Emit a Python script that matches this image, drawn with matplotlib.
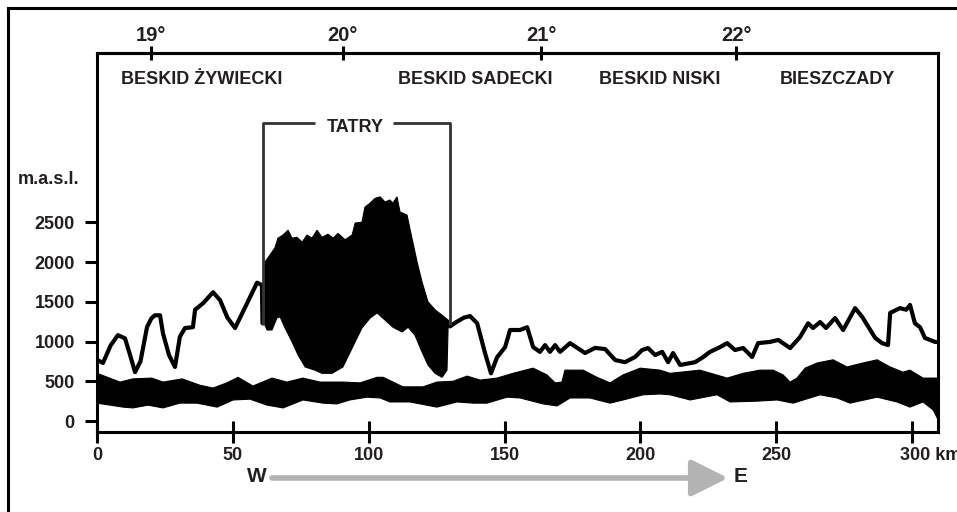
import numpy as np
import matplotlib
matplotlib.use("Agg")
import matplotlib.pyplot as plt
from matplotlib.lines import Line2D
from matplotlib.transforms import ScaledTranslation

plt.rcParams['font.family'] = ['Liberation Sans', 'DejaVu Sans']
plt.rcParams['font.weight'] = 'bold'

INK = "#231f20"

# ── ridge line (main crest), west of the Tatras ──────────────────────────────
west_km = [0, 2.2, 5, 7.7, 10.3, 12, 14, 16, 18.4, 20, 21.3, 23.2, 24.3, 26.5, 28.7,
           30.5, 32.4, 35.3, 36.1, 39.0, 42.7, 45.3, 48, 50.8, 54.5, 58.9, 60.7, 60.9]
west_m = [770, 730, 950, 1080, 1040, 850, 615, 750, 1180, 1290, 1330, 1330, 1100, 830, 680,
          1060, 1170, 1180, 1400, 1480, 1620, 1520, 1300, 1170, 1430, 1740, 1710, 1230]

# ── ridge line east of the Tatras ────────────────────────────────────────────
east_km = [129.9, 132, 135, 137.3, 139.9, 142.8, 145.0, 147.2, 150.2, 152.0, 155.7, 158.3,
           160.5, 163.0, 164.9, 166.7, 168.6, 170.4, 174.1, 179.6, 183.3, 187.0, 190.7,
           194.3, 198.0, 200.6, 202.8, 205.4, 208.0, 210.2, 212.0, 214.6, 220.1, 223.1,
           225.6, 229.3, 231.9, 234.8, 237.8, 241.1, 243.3, 247.7, 250.7, 255.1, 258.7,
           261.7, 263.5, 266.1, 268.3, 271.6, 274.6, 279.0, 281.6, 286.4, 288.9, 291.1,
           291.9, 295.5, 297.8, 299.2, 301.0, 302.9, 304.7, 308.4, 309.5]
east_m = [1190, 1240, 1300, 1320, 1230, 855, 600, 800, 930, 1145, 1145, 1180,
          930, 870, 955, 870, 955, 870, 980, 855, 920, 905, 767,
          740, 805, 893, 918, 830, 870, 740, 855, 705, 740, 805,
          870, 930, 980, 893, 918, 805, 980, 995, 1020, 918, 1055,
          1230, 1170, 1245, 1170, 1295, 1145, 1420, 1310, 1045, 980, 955,
          1360, 1420, 1400, 1460, 1230, 1180, 1045, 995, 995]

# ── Tatry massif: upper (summits) and lower envelope ─────────────────────────
tatry_top_km = [61.8, 63.7, 65.5, 66.6, 68.5, 70.3, 71.8, 73.6, 75.5, 77.3, 79.1, 81.0,
                82.8, 85.0, 86.9, 88.7, 91.3, 93.9, 95.0, 97.5, 98.6, 100.5, 102.3,
                104.2, 106.0, 107.8, 108.9, 110.4, 111.5, 114.1, 115.9, 117.8, 119.6,
                121.8, 124.4, 127.0, 129.2, 129.6]
tatry_top_m = [2000, 2090, 2180, 2300, 2340, 2400, 2300, 2310, 2250, 2340, 2300, 2400,
               2310, 2350, 2300, 2360, 2280, 2340, 2490, 2500, 2690, 2740, 2800,
               2820, 2755, 2780, 2740, 2820, 2630, 2590, 2300, 2000, 1750,
               1500, 1400, 1330, 1270, 1245]
tatry_bot_km = [61.8, 62.6, 64.4, 66.2, 67.4, 69.2, 71.8, 74.0, 76.6, 80.2, 82.8, 86.5,
                90.5, 93.9, 97.5, 100.5, 103.1, 106.0, 108.9, 112.3, 114.5, 117.0,
                119.6, 121.8, 124.4, 127.0, 128.8, 129.2, 129.6]
tatry_bot_m = [1210, 1145, 1145, 1295, 1310, 1170, 995, 830, 680, 640, 600, 600,
               680, 918, 1170, 1295, 1360, 1270, 1180, 1120, 1180, 1080,
               870, 705, 600, 550, 640, 1170, 1245]

# ── foreland band (valley floors) ────────────────────────────────────────────
band_top_km = [0, 8.5, 13.2, 20.2, 24.3, 31.3, 37.9, 42.7, 47.8, 51.9, 57.4, 64.4, 69.9,
               75.8, 82.1, 90.5, 96.8, 103.1, 105.3, 112.6, 120.0, 125.1, 131.0, 136.2,
               141.0, 147.2, 153.1, 160.5, 165.6, 168.6, 171.1, 172.2, 178.9, 184.0,
               188.8, 193.6, 199.9, 207.2, 210.9, 221.9, 231.9, 237.8, 244.0, 248.8,
               252.5, 255.1, 257.6, 260.6, 265.0, 270.9, 276.0, 281.9, 287.1, 291.9,
               296.6, 299.2, 304.0, 309.5]
band_top_m = [600, 490, 530, 540, 490, 530, 450, 415, 480, 550, 440, 540, 490,
              540, 490, 490, 480, 550, 550, 430, 430, 490, 500, 565,
              515, 540, 600, 665, 580, 480, 490, 640, 640, 550,
              480, 580, 665, 640, 600, 640, 540, 600, 640, 640,
              580, 490, 540, 665, 730, 770, 680, 730, 770, 680,
              615, 640, 540, 540]
band_bot_km = [0, 9.6, 13.2, 18.8, 24.3, 30.5, 36.8, 44.2, 50.1, 56.3, 62.6, 68.5, 75.8,
               83.2, 88.3, 93.1, 99.4, 104.2, 107.8, 115.2, 125.1, 132.5, 138.4, 143.5,
               150.9, 155.7, 164.2, 169.3, 174.1, 181.4, 188.8, 193.6, 201.0, 207.2,
               210.9, 218.3, 228.2, 233.0, 242.9, 250.3, 256.2, 266.1, 272.4, 277.1,
               287.1, 294.4, 299.2, 304.0, 307.7, 309.2, 309.5]
band_bot_m = [225, 175, 165, 200, 165, 225, 225, 175, 265, 275, 200, 165, 265,
              225, 215, 265, 300, 290, 240, 240, 175, 240, 225, 225,
              300, 290, 215, 190, 290, 290, 225, 265, 330, 340,
              330, 265, 330, 240, 250, 265, 225, 330, 290, 225,
              300, 240, 175, 240, 140, 40, 0]

# ── axes labels ──────────────────────────────────────────────────────────────
km_ticks = [0, 50, 100, 150, 200, 250, 300]
m_ticks = [0, 500, 1000, 1500, 2000, 2500]
lon_km = [19.9, 90.5, 163.4, 235.2]
lon_labels = ["19°", "20°", "21°", "22°"]
ranges = ["BESKID ŻYWIECKI", "BESKID SADECKI", "BESKID NISKI", "BIESZCZADY"]
ranges_km = [38.6, 139.1, 207.2, 272.4]

fig = plt.figure(figsize=(9.57, 5.12), dpi=100)
ax = fig.add_axes([97 / 957, 80 / 512, 841 / 957, 379 / 512])
ax.set_xlim(0, 309.5)
ax.set_ylim(-138, 4629)

# band
ax.fill(np.r_[band_top_km, band_bot_km[::-1]], np.r_[band_top_m, band_bot_m[::-1]],
        color="black", lw=0.8, zorder=2)
# Tatry
ax.fill(np.r_[tatry_top_km, tatry_bot_km[::-1]], np.r_[tatry_top_m, tatry_bot_m[::-1]],
        color="black", lw=0.8, zorder=2)
# ridge lines
kw = dict(color="black", lw=3, solid_joinstyle="round", solid_capstyle="round", zorder=3)
ax.plot(west_km, west_m, **kw)
ax.plot(east_km, east_m, **kw)

# TATRY bracket
bx0, bx1, by0, by1 = 61.1, 129.9, 1208, 3748
bc = dict(color="#333333", lw=2, solid_capstyle="butt", zorder=4, clip_on=False)
ax.plot([bx0, bx0, 80.2], [by0, by1, by1], **bc)
ax.plot([108.9, bx1, bx1], [by1, by1, by0], **bc)
ax.text(95, 3690, "TATRY", ha="center", va="center", fontsize=13, color=INK)

for name, x in zip(ranges, ranges_km):
    ax.text(x, 4290, name, ha="center", va="center", fontsize=13, color=INK)

ax.text(-17.7, 3032, "m.a.s.l.", ha="center", va="center", fontsize=13, color=INK,
        clip_on=False)

# spines / ticks
for s in ax.spines.values():
    s.set_linewidth(2.2)
    s.set_color("black")
ax.set_xticks(km_ticks, [str(v) for v in km_ticks[:-1]] + ["300 km"])
ax.set_yticks(m_ticks, [str(v) for v in m_ticks])
ax.tick_params(axis="x", direction="inout", length=16, width=2.2, pad=3,
               labelsize=13, labelcolor=INK)
ax.tick_params(axis="y", direction="out", length=9, width=2.2, pad=7,
               labelsize=13, labelcolor=INK)
last = ax.get_xticklabels()[-1]
last.set_horizontalalignment("left")
last.set_transform(last.get_transform() + ScaledTranslation(-12 / 100, 0, fig.dpi_scale_trans))

top = ax.secondary_xaxis("top")
top.set_xticks(lon_km, lon_labels)
top.spines["top"].set_linewidth(2.2)
top.tick_params(direction="inout", length=10, width=2.2, pad=1, labelsize=14.5,
                labelcolor=INK)

# outer frame
fig.add_artist(Line2D([8 / 957, 8 / 957], [0, 1 - 8 / 512], color="black", lw=2.2))
fig.add_artist(Line2D([8 / 957, 1], [1 - 8 / 512, 1 - 8 / 512], color="black", lw=2.2))

# W -> E arrow
fig.text(257 / 957, 1 - 477 / 512, "W", ha="center", va="center", fontsize=15, color=INK)
fig.text(741 / 957, 1 - 476 / 512, "E", ha="center", va="center", fontsize=15, color=INK)
ax.annotate("", xy=(728 / 957, 1 - 478 / 512), xytext=(272 / 957, 1 - 478 / 512),
            xycoords="figure fraction", textcoords="figure fraction",
            arrowprops=dict(arrowstyle="-|>,head_length=1.6,head_width=0.8", color="#b3b3b3",
                            lw=4, mutation_scale=14, shrinkA=0, shrinkB=0))

fig.savefig("out.png", dpi=100)
